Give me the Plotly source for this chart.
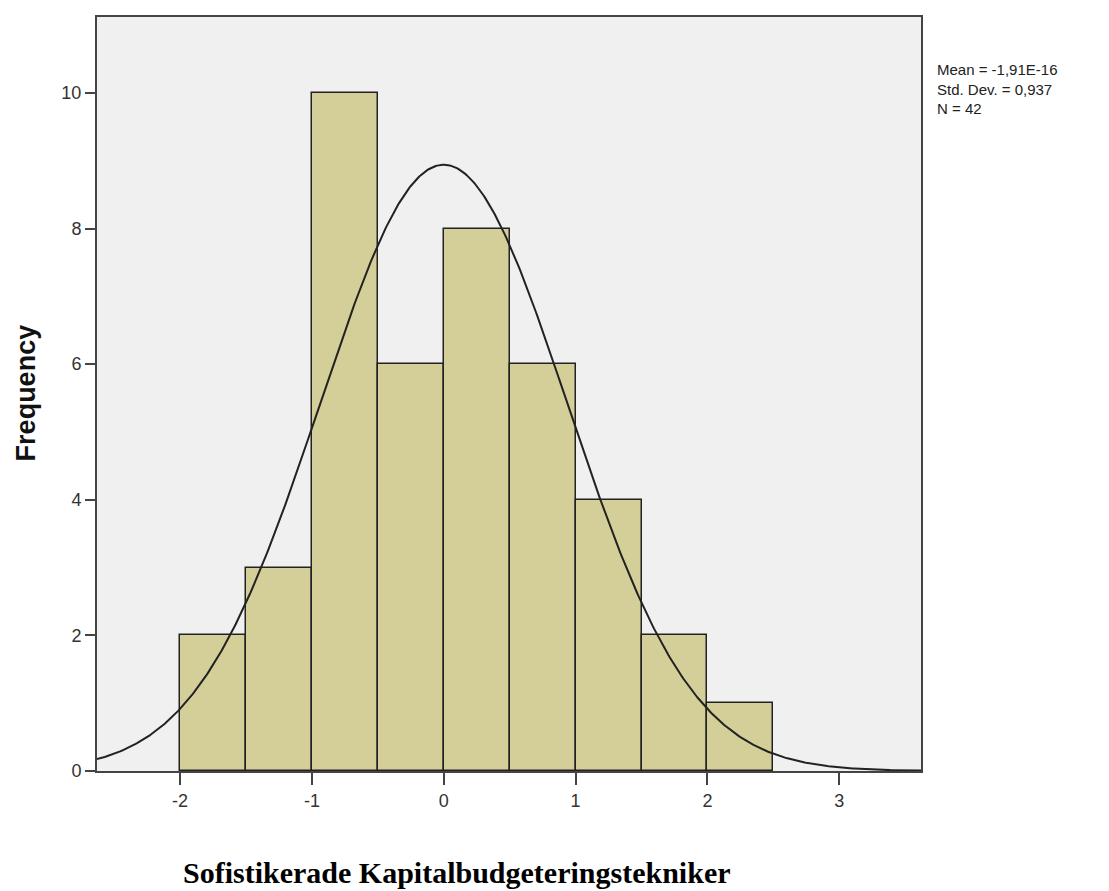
import numpy as np
import plotly.graph_objects as go

# Histogram data
bin_left = [-2.0, -1.5, -1.0, -0.5, 0.0, 0.5, 1.0, 1.5, 2.0]
bin_width = 0.5
counts = [2, 3, 10, 6, 8, 6, 4, 2, 1]

# Stated statistics
mean = -1.91e-16
std_dev = 0.937
n = 42
stats_lines = ["Mean = -1,91E-16", "Std. Dev. = 0,937", "N = 42"]

x_ticks = [-2, -1, 0, 1, 2, 3]
y_ticks = [0, 2, 4, 6, 8, 10]

bar_centers = [b + bin_width / 2 for b in bin_left]

# Fitted normal curve scaled to counts
xc = np.linspace(-2.7, 3.7, 600)
yc = n * bin_width / (std_dev * np.sqrt(2 * np.pi)) * np.exp(-0.5 * ((xc - mean) / std_dev) ** 2)

fig = go.Figure()
fig.add_trace(go.Bar(
    x=bar_centers, y=counts, width=bin_width,
    marker=dict(color="#D4CF98", line=dict(color="#222222", width=1.5)),
    showlegend=False, hoverinfo="x+y",
))
fig.add_trace(go.Scatter(
    x=xc, y=yc, mode="lines",
    line=dict(color="#222222", width=2),
    showlegend=False, hoverinfo="skip",
))

annotations = [
    dict(text="<br>".join(stats_lines), xref="paper", yref="paper", x=1.017, y=0.944,
         xanchor="left", yanchor="top", align="left", showarrow=False,
         font=dict(family="Liberation Sans, Arial", size=15, color="#222222")),
    dict(text="<b>Frequency</b>", xref="paper", yref="paper",
         x=-0.086, y=0.501, xanchor="center", yanchor="middle", textangle=-90,
         showarrow=False,
         font=dict(family="Liberation Sans, Arial", size=27, color="#111111")),
    dict(text="<b>Sofistikerade Kapitalbudgeteringstekniker</b>", xref="paper", yref="paper",
         x=0.437, y=-0.135, xanchor="center", yanchor="middle",
         showarrow=False,
         font=dict(family="Liberation Serif, Times New Roman", size=30, color="#000000")),
]

fig.update_layout(
    width=1101, height=883,
    margin=dict(l=89, r=188, t=7, b=120),
    paper_bgcolor="white",
    plot_bgcolor="#F0F0F0",
    bargap=0,
    font=dict(family="Liberation Sans, Arial", size=13, color="#333333"),
    xaxis=dict(
        range=[-2.63, 3.62], tickvals=x_ticks, ticktext=[str(v) for v in x_ticks],
        showgrid=False, zeroline=False, showline=True, mirror=True,
        linecolor="#444444", linewidth=2, ticks="outside", ticklen=12,
        tickcolor="#444444", tickwidth=1.5, tickfont=dict(size=18, color="#333333"),
    ),
    yaxis=dict(
        range=[0, 11.12], tickvals=y_ticks, ticktext=[str(v) for v in y_ticks],
        showgrid=False, zeroline=False, showline=True, mirror=True,
        linecolor="#444444", linewidth=2, ticks="outside", ticklen=10,
        tickcolor="#444444", tickwidth=1.5, tickfont=dict(size=18, color="#333333"),
    ),
    annotations=annotations,
)

fig.write_html("out.html")
